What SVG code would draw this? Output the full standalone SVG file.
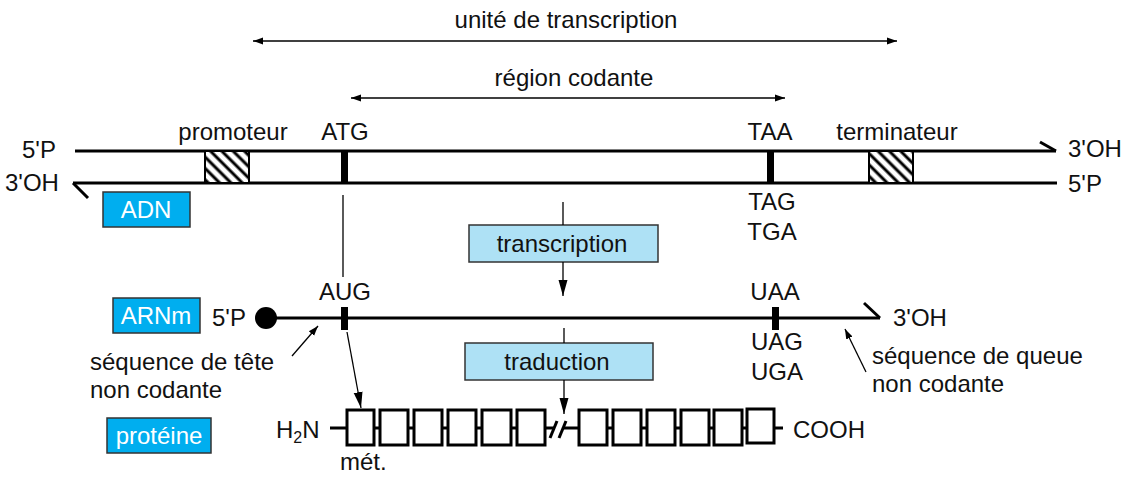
<svg xmlns="http://www.w3.org/2000/svg" width="1128" height="477" viewBox="0 0 1128 477">
<defs>
<style>
text{font-family:"Liberation Sans",Arial,sans-serif;font-size:24px;fill:#111}
.c{text-anchor:middle}
.w{fill:#fff}
.s{stroke:#000;stroke-width:3;fill:none}
.t{stroke:#000;stroke-width:1.3;fill:none}
.tag{fill:#00aeef;stroke:#333;stroke-width:1.5}
.proc{fill:#aee1f5;stroke:#333;stroke-width:1.5}
.aa{fill:#fff;stroke:#000;stroke-width:3}
</style>
<pattern id="hatch" width="8" height="8" patternUnits="userSpaceOnUse" patternTransform="rotate(-45)">
<rect width="8" height="8" fill="#fff"/>
<line x1="2" y1="0" x2="2" y2="8" stroke="#000" stroke-width="3"/>
</pattern>
<marker id="ah" viewBox="0 0 10 10" refX="10" refY="5" markerWidth="10" markerHeight="10" markerUnits="userSpaceOnUse" orient="auto-start-reverse">
<path d="M0,1.5 L10,5 L0,8.5 Z" fill="#000"/>
</marker>
<marker id="ahb" viewBox="0 0 10 10" refX="10" refY="5" markerWidth="16" markerHeight="16" markerUnits="userSpaceOnUse" orient="auto">
<path d="M0,2.2 L10,5 L0,7.8 Z" fill="#000"/>
</marker>
</defs>

<g id="scale-unite">
<text class="c" x="566" y="28">unité de transcription</text>
</g>
<g id="scale-region">
<text class="c" x="574" y="86">région codante</text>
</g>

<g id="adn">
<line class="s" x1="75" y1="151" x2="1056" y2="151"/>
<line class="s" x1="1040" y1="142" x2="1056" y2="151"/>
<line class="s" x1="73" y1="183" x2="1057" y2="183"/>
<line class="s" x1="73" y1="183" x2="88" y2="198"/>
<text x="22" y="158">5'P</text>
<text x="5" y="191">3'OH</text>
<text x="1068" y="157">3'OH</text>
<text x="1068" y="192">5'P</text>
</g>
<g id="promoteur">
<rect x="205" y="151" width="44" height="32" fill="url(#hatch)" stroke="#000" stroke-width="2"/>
<text class="c" x="233" y="140">promoteur</text>
</g>
<g id="terminateur">
<rect x="869" y="151" width="44" height="32" fill="url(#hatch)" stroke="#000" stroke-width="2"/>
<text class="c" x="897" y="140">terminateur</text>
</g>
<g id="atg">
<rect x="341" y="151" width="7" height="32" fill="#000"/>
<text class="c" x="345" y="140">ATG</text>
</g>
<g id="taa">
<rect x="767" y="151" width="7" height="32" fill="#000"/>
<text class="c" x="770" y="140">TAA</text>
<text class="c" x="772" y="210">TAG</text>
<text class="c" x="772" y="240">TGA</text>
</g>
<g id="label-adn">
<rect class="tag" x="103" y="192" width="87" height="35"/>
<text class="c w" x="146" y="218">ADN</text>
</g>

<g id="transcription">
<rect class="proc" x="469" y="225" width="189" height="37"/>
<text class="c" x="562" y="252">transcription</text>
</g>

<g id="arnm">
<line class="s" x1="266" y1="318" x2="880" y2="318"/>
<line class="s" x1="864" y1="303" x2="880" y2="318"/>
<circle cx="266" cy="318" r="11" fill="#000"/>
<text x="212" y="326">5'P</text>
<text x="893" y="326">3'OH</text>
</g>
<g id="aug">
<rect x="341" y="307" width="7" height="23" fill="#000"/>
<text class="c" x="345" y="300">AUG</text>
</g>
<g id="uaa">
<rect x="772" y="307" width="7" height="23" fill="#000"/>
<text class="c" x="775" y="300">UAA</text>
<text class="c" x="777" y="350">UAG</text>
<text class="c" x="777" y="380">UGA</text>
</g>
<g id="label-arnm">
<rect class="tag" x="113" y="298" width="87" height="35"/>
<text class="c w" x="156" y="324">ARNm</text>
</g>
<g id="tete">
<text x="90" y="370">séquence de tête</text>
<text x="90" y="398">non codante</text>
</g>
<g id="queue">
<text x="872" y="364">séquence de queue</text>
<text x="872" y="392">non codante</text>
</g>

<g id="traduction">
<rect class="proc" x="465" y="343" width="188" height="37"/>
<text class="c" x="557" y="370">traduction</text>
</g>

<g id="proteine">
<line class="s" x1="330" y1="428" x2="555" y2="428"/>
<line class="s" x1="563" y1="428" x2="783" y2="428"/>
<line class="s" x1="550" y1="438" x2="557" y2="421"/>
<line class="s" x1="559" y1="438" x2="566" y2="421"/>
<rect class="aa" x="347" y="410" width="27" height="35"/>
<rect class="aa" x="380" y="410" width="28" height="35"/>
<rect class="aa" x="414" y="410" width="28" height="35"/>
<rect class="aa" x="448" y="410" width="28" height="35"/>
<rect class="aa" x="482" y="410" width="29" height="35"/>
<rect class="aa" x="517" y="410" width="28" height="35"/>
<rect class="aa" x="579" y="410" width="28" height="35"/>
<rect class="aa" x="613" y="410" width="28" height="35"/>
<rect class="aa" x="647" y="410" width="28" height="35"/>
<rect class="aa" x="681" y="410" width="28" height="35"/>
<rect class="aa" x="714" y="410" width="28" height="35"/>
<rect class="aa" x="747" y="409" width="27" height="34"/>
<text x="276" y="438">H<tspan font-size="16" dy="5">2</tspan><tspan dy="-5">N</tspan></text>
<text x="793" y="438">COOH</text>
<text x="340" y="470">mét.</text>
</g>
<g id="label-proteine">
<rect class="tag" x="107" y="418" width="104" height="35"/>
<text class="c w" x="159" y="444">protéine</text>
</g>

<g id="connectors">
<line class="t" x1="253" y1="41" x2="897" y2="41" marker-start="url(#ah)" marker-end="url(#ah)"/>
<line class="t" x1="351" y1="98" x2="785" y2="98" marker-start="url(#ah)" marker-end="url(#ah)"/>
<line class="t" x1="343" y1="195" x2="343" y2="277"/>
<line class="t" x1="563" y1="202" x2="563" y2="225"/>
<line class="t" x1="563" y1="262" x2="563" y2="296" marker-end="url(#ahb)"/>
<line class="t" x1="564" y1="328" x2="564" y2="343"/>
<line class="t" x1="564" y1="380" x2="564" y2="414" marker-end="url(#ahb)"/>
<line class="t" x1="347" y1="332" x2="361" y2="408" marker-end="url(#ahb)"/>
<line class="t" x1="292" y1="356" x2="318" y2="326" marker-end="url(#ah)"/>
<line class="t" x1="866" y1="372" x2="845" y2="329" marker-end="url(#ah)"/>
</g>
</svg>
